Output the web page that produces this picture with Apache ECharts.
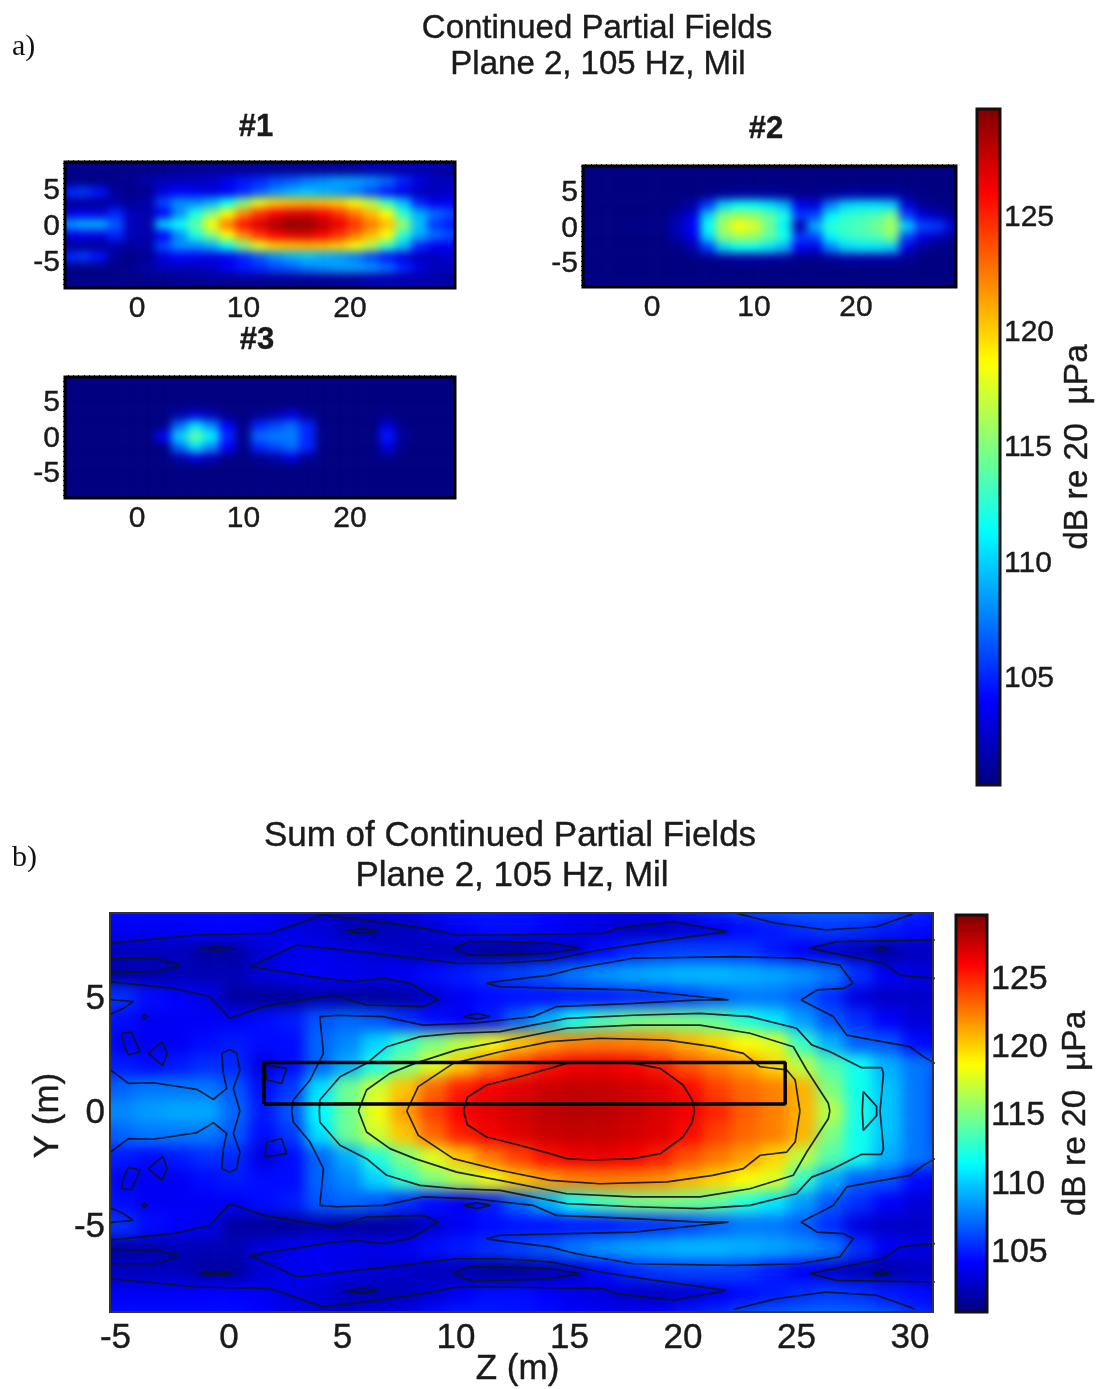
<!DOCTYPE html>
<html><head><meta charset="utf-8">
<style>html,body{margin:0;background:#fff}#c{width:1098px;height:1389px}</style>
<script src="https://cdn.jsdelivr.net/npm/echarts@6/dist/echarts.min.js"></script>
</head><body><div id="c"></div>
<script>
// ---------- tick labels / colour scale ----------
const JET = ['#000080','#0000ff','#0080ff','#00ffff','#80ff80','#ffff00','#ff8000','#ff0000','#800000'];
const partialRange = [100.27, 129.6];
const sumRange = [100.46, 129.54];
const colorTicks = [105,110,115,120,125];
const sumZTicks = [-5,0,5,10,15,20,25,30];
const sumYTicks = [-5,0,5];
const partialZTicks = [0,10,20];
const partialYTicks = [-5,0,5];

// ---------- sum field (upper half; the field is mirror-symmetric about Y=0) ----------
const sumZ = [-6,-4.75,-3.5,-2.25,-1,0.25,1.5,2.75,4,5.25,6.5,7.75,9,10.25,11.5,12.75,14,15.25,16.5,17.75,19,20.25,21.5,22.75,24,25.25,26.5,27.75,29,30.25,31.5];
const sumY = [0,1,2,3,4,5,6,7,8,9];
const sumY0 = [108,108,108.6,108.9,108.9,107,104.8,106.5,111.3,114.5,118.2,121.4,124.1,126,126.8,127.2,127.7,128,127.9,127.5,127,126.3,124.9,123.3,122.3,120.8,116.6,112,109.7,107.5,105.9];
const sumY1 = [105.9,107,107.5,107.5,107.5,106.5,104.4,105.7,110.5,114.5,117.3,120.3,123,125.1,126.1,126.8,127.4,127.6,127.5,127.2,126.8,125.7,124.1,123,122.3,120.8,115,111.8,109.7,107.5,105.9];
const sumY2 = [105.4,104.8,104.4,104.8,105.4,105.2,103.3,104.4,107,109.1,112.3,115,117.7,120.3,122.5,124.1,125.5,126.3,126.5,126.1,125.1,123.6,122.5,121.4,119.8,116.7,113.7,111.8,109.1,107.5,106.5];
const sumY3 = [105.4,103.8,103.8,103.8,104.4,104.8,104.4,104.4,107,108,110.2,112.9,115,116.6,118.2,120.3,121.4,122.3,122.5,122.3,121.9,120.8,119.8,118.7,117.7,112.9,109.1,106.8,106.5,104.4,103.8];
const sumY4 = [105.4,104.4,103.8,103.8,103.8,103.8,104.4,104.8,106.5,107,106.5,105.4,104.4,103.8,104.8,107,109.1,111.8,113.4,114.5,114.8,114.5,114,112.3,110.7,108.6,106.5,105.4,104,103,103];
const sumY5 = [105.9,105.4,104.4,104.1,103.5,101.5,101.2,101.2,101.8,101.5,101.3,101.5,102.8,103.8,104.4,104.6,104.6,104.8,104.8,105.2,105.4,106,106.8,107.5,107.5,106.8,105.4,103.2,102.5,102.5,103];
const sumY6 = [101.8,101.6,101.8,102,102,102,103.1,103.6,103.8,103.6,103.5,103.8,104.4,104.8,105.4,105.9,106.5,107.5,108.3,108.8,109.1,109.4,109.4,109.1,108.8,108.3,107.5,105.4,103.8,103.3,103.1];
const sumY7 = [102.5,102.2,102.2,102.2,101.5,101.5,102.8,103.6,103.6,103.3,102.9,102.5,102.2,102,101.2,101.2,102,102.8,104.4,105.2,105.7,105.9,105.9,105.7,104.8,103.8,102.8,102,101.5,102.2,102.4];
const sumY8 = [103.8,103.8,103.8,103.8,104.1,104.1,103.8,103.3,103,102,101.9,102.2,102.9,103.8,104.4,104.4,104.1,103.5,103.1,102.5,102.4,102.9,103.6,104.4,104.8,105.4,105.7,105.4,104.8,104.4,103.8];
const sumY9 = [104.4,104.4,104.4,104.4,104.4,104.4,104.1,103.3,102.8,102.8,103.3,103.5,104.4,104.8,104.8,104.6,104.4,104,103.8,103.8,104.1,104.8,105.4,106.3,106.7,107,107,107,106.5,105.4,104.8];
const sumRows = [sumY0,sumY1,sumY2,sumY3,sumY4,sumY5,sumY6,sumY7,sumY8,sumY9];

// ---------- partial fields (upper half) ----------
const partZ = [-8,-6.5,-5,-3.5,-2,-0.5,1,2.5,4,5.5,7,8.5,10,11.5,13,14.5,16,17.5,19,20.5,22,23.5,25,26.5,28,29.5,31];
const partY = [0,1.5,3,4.5,6,7.5,9,10.5];
const p1Y0  = [107,108,109,109,106.5,102,101.5,110,111.5,114,118.5,122.5,125.5,127,128.5,129.3,129,128,126.5,124.5,122.5,120.5,115.5,109.5,105.5,104.5,104];
const p1Y15 = [103,103,103.5,103,105,102,101.5,104,108,112,115,118.5,122,124.5,126,126.8,127,126,124.5,122.5,120.5,118.5,112.5,109,107,106,105];
const p1Y3  = [101,101,101,101,101.5,101,101.5,106,108,108,109,111.5,115,118,120,120.5,120.8,120.5,120,118.5,116.5,113,109.5,105,103.5,103.5,103];
const p1Y45 = [104,105,105.5,104.5,101,100.6,100.8,103,104,103.5,103,103.5,105,106.5,108,109,109.5,109,108.5,107.5,106,104.5,103,102,102,102.5,102.5];
const p1Y6  = [100.5,100.5,100.5,100.5,100.5,100.8,101.5,102,102,102,102.5,103.5,104.5,105,106,106.5,107.5,108,108.5,108.5,108,107,105,103,102,102,102];
const p1Y75 = [100.5,100.5,100.5,100.5,100.5,100.5,100.5,100.5,100.8,101,101,101,101,101,101,101,101,101,101,101,101.5,101.5,101.5,101.5,101.5,101,100.6];
const p1Y9  = [100.6,100.6,100.6,100.6,100.6,100.6,100.6,100.6,100.6,100.6,100.6,100.6,100.6,100.6,100.6,100.6,100.6,100.6,100.8,101,102,102,102,102,102,102,101];
const p1Y105= [100.6,100.6,100.6,100.6,100.6,100.6,100.6,100.6,100.6,100.6,100.6,100.6,100.6,100.6,100.6,100.6,100.6,100.6,100.8,101,102,102,102,102,102,102,101];
const p1Rows = [p1Y0,p1Y15,p1Y3,p1Y45,p1Y6,p1Y75,p1Y9,p1Y105];

const p2Y0  = [100.3,100.3,100.3,100.3,100.5,100.6,100.5,102,104,111.5,116,118.5,117.5,114.5,111,101.5,109,112.5,113,113.5,114.5,116,110,106,105.5,102.5,101];
const p2Y15 = [100.3,100.3,100.3,100.3,100.3,100.3,100.3,101.5,103,110,115,116,115.5,114,112,105.5,106,111,112.5,113,113.5,115,106,103,102,101,100.5];
const p2Y3  = [100.3,100.3,100.3,100.3,100.3,100.3,100.3,100.4,101.5,105.5,110,111.5,111.5,110.5,109,103.5,103,107.5,110,110.5,110.5,110,103,101,100.5,100.3,100.3];
const p2Y45 = [100.3,100.3,100.3,100.3,100.3,100.3,100.3,100.3,100.3,100.6,101,101.3,101.3,101.3,101,100.6,100.6,101,101.5,101.5,101.5,101.5,100.8,100.4,100.3,100.3,100.3];
const p2Y6  = [100.3,100.3,100.3,100.3,100.3,100.3,100.3,100.3,100.3,100.3,100.3,100.3,100.3,100.3,100.3,100.3,100.3,100.3,100.3,100.3,100.3,100.3,100.3,100.3,100.3,100.3,100.3];
const p2Rows = [p2Y0,p2Y15,p2Y3,p2Y45,p2Y6,p2Y6,p2Y6,p2Y6];

const p3Y0  = [100.3,100.3,100.3,100.3,100.3,100.3,100.3,104,110,114,111,105,100.5,107,107.5,107.5,105,100.5,100.3,100.3,100.3,104.5,101,100.3,100.3,100.3,100.3];
const p3Y15 = [100.3,100.3,100.3,100.3,100.3,100.3,100.3,100.5,107,110.5,108,104,100.5,105,106,107,105,100.5,100.3,100.3,100.3,103,100.6,100.3,100.3,100.3,100.3];
const p3Y3  = [100.3,100.3,100.3,100.3,100.3,100.3,100.3,100.3,101.5,103,102,100.5,100.3,100.8,101.5,103,101,100.3,100.3,100.3,100.3,100.6,100.3,100.3,100.3,100.3,100.3];
const p3Y45 = [100.3,100.3,100.3,100.3,100.3,100.3,100.3,100.3,100.3,100.3,100.3,100.3,100.3,100.3,100.3,100.3,100.3,100.3,100.3,100.3,100.3,100.3,100.3,100.3,100.3,100.3,100.3];
const p3Rows = [p3Y0,p3Y15,p3Y3,p3Y45,p3Y45,p3Y45,p3Y45,p3Y45];

// ---------- contour lines of the sum field, [Z, Y], upper half ----------
const contour125 = [[10.33,0],[10.5,0.6],[11.35,1.14],[12.8,1.5],[14.14,1.87],[14.88,2.09],[16,2.15],[17.8,2.09],[19,1.87],[20,1.14],[20.4,0.5],[20.5,0]];
const contour121 = [[7.83,0],[8.34,1.07],[9.88,2.09],[11.94,2.6],[14.14,3.04],[16.34,3.19],[19.3,3.11],[21.3,2.82],[22.66,2.53],[23.4,1.94],[24.57,1.8],[24.94,1.36],[25.15,0]];
const contour116 = [[5.7,0],[6.06,0.92],[7.09,1.65],[8.19,2.09],[10.03,2.68],[11.94,3.04],[14.88,3.63],[17.81,3.77],[20.75,3.77],[22.95,3.41],[24.86,2.82],[25.45,1.8],[26.4,0.34],[26.47,0]];
const contour112 = [[3.98,0],[4,0.48],[4.89,1.5],[6.06,2.09],[6.95,2.82],[8.41,3.26],[10.03,3.41],[11.94,3.48],[14.88,4.06],[17.81,4.2],[20.75,4.28],[22.95,4.14],[25,3.63],[25.67,2.9],[26.48,2.6],[27.87,1.9],[28.75,1.9],[28.83,1.65],[28.68,0]];
const contour112b = [[27.9,0],[27.94,0.85],[28.53,0.2],[28.53,0]];
const contour107 = [[2.76,0],[2.83,0.48],[3.57,1.36],[4.16,2.53],[4,4.14],[4.74,4.2],[6.8,4.14],[8.56,3.77],[10.76,3.85],[13.4,4.14],[14.43,4.58],[17.81,4.72],[20.75,4.87],[22,4.87],[20.75,5.01],[17.81,5.31],[14,5.4],[11.94,5.45],[11.35,5.6],[11.94,5.7],[14.14,5.96],[15.3,6.26],[17.8,6.7],[22.22,6.77],[25.16,6.7],[26.9,6.4],[27.5,5.6],[27.07,5.38],[25.9,5.31],[25.2,4.87],[26.62,4.14],[27.21,3.33],[28.39,3.11],[30,2.82],[30.6,2.38],[31.1,2.09]];
const contourLeft = [[-5.3,1.87],[-4.43,1.21],[-3.33,1.24],[-1.42,0.95],[-0.69,0.51],[-0.1,0.99],[-0.25,1.65],[-0.32,2.53],[0.04,2.7],[0.34,2.53],[0.48,1.8],[0.19,0.99],[0.48,0]];
const contourWave = [[-5.3,5.67],[-2.45,5.38],[-0.84,5.01],[0.04,4.06],[1.51,4.58],[4.6,5.09],[6.06,4.65],[8.56,4.58],[9.22,4.87],[7.97,5.6],[6.8,5.82],[5.48,5.67],[4.16,5.82],[0.93,6.33],[2.98,7.28],[5.04,7.06],[7.09,6.84],[10.03,6.48],[11.94,6.48],[14.14,6.62],[16.34,7.06],[18.25,7.35],[21.92,7.87],[19.6,8.3],[17.08,8.01],[16.49,7.79],[11.94,7.72],[10.03,7.72],[8.56,8.01],[7.09,8.23],[4.16,8.6],[1.81,7.79],[-1.42,7.72],[-5.3,7.35]];
const contourLeftOval = [[-5.3,6.7],[-3.19,6.7],[-2.16,6.37],[-3.19,6.11],[-5.3,6.07]];
const contourLeftWedge = [[-5.3,4.9],[-4.21,4.8],[-4.65,4.5],[-5.3,4.21]];
const contourTopRight = [[22.22,8.7],[24.13,8.23],[26.33,7.94],[28.53,8.08],[30,8.6],[30.2,8.7]];
const contourRight = [[31.1,7.5],[26.76,7.43],[25.59,7.13],[27.06,6.84],[28.82,6.48],[29.56,5.96],[31.1,5.82]];
const loopA = [[-1.28,7.13],[-0.54,7.2],[0.19,7.13],[-0.54,7.03]];
const loopB = [[5.18,7.89],[5.84,8],[6.58,7.89],[5.84,7.79]];
const loopC = [[9.88,7.13],[10.62,7.43],[11.94,7.43],[14.14,7.35],[15.46,7.13],[14.14,6.92],[11.94,6.84],[10.62,6.84]];
const loopD = [[10.32,4.14],[10.91,4.28],[11.5,4.14],[10.91,4.03]];
const loopE = [[28.39,7.13],[28.73,7.2],[29.09,7.13],[28.73,7.03]];
const loopF = [[-4.73,3.41],[-4.29,3.45],[-3.92,2.6],[-4.43,2.46],[-4.65,2.97]];
const loopG = [[-3.55,2.53],[-2.95,3.04],[-2.72,2.53],[-2.92,1.99]];
const loopH = [[1.59,2.02],[2.54,1.87],[2.32,1.21],[1.66,1.36]];
const loopI = [[-3.85,4.14],[-3.73,4.24],[-3.61,4.14],[-3.73,4.04]];
const openContours = [contour125,contour121,contour116,contour112,contour112b,contour107,contourLeft,contourWave,contourLeftOval,contourLeftWedge,contourTopRight,contourRight];
const closedContours = [loopA,loopB,loopC,loopD,loopE,loopF,loopG,loopH,loopI];
const rectZ = [1.54,24.5];
const rectY = [0.31,2.13];

// ---------- layout ----------
const FONT = '"Liberation Sans", Arial, sans-serif';
const INK = '#1a1a1a';
const panelMain = {l:110,t:913,r:933,b:1312,x0:229,sx:22.7,y0:1111,sy:22.8};
const panel1 = {l:65,t:162,r:455,b:288,x0:137,sx:10.65,y0:224,sy:7.2};
const panel2 = {l:583,t:166,r:956,b:287,x0:652,sx:10.2,y0:226,sy:7.1};
const panel3 = {l:65,t:377,r:455,b:498,x0:137,sx:10.65,y0:436,sy:7.1};
const barA = {l:977,t:109,r:1000,b:785};
const barB = {l:956,t:915,r:987,b:1312};

const grids=[],xAxes=[],yAxes=[],series=[];
const FULL = 1098, TALL = 1389;
const heavy = {fontFamily:FONT,color:INK,textBorderColor:INK,textBorderWidth:0.4};
// vertical tick labels sit about 2 px below the tick in the reference
const loweredLabel=(fs,m,vals)=>({customValues:vals,margin:m,formatter:'{a|{value}}',
  rich:{a:Object.assign({fontSize:fs,padding:[5,0,0,0]},heavy)}});
function mirrorAxis(v){return v.slice().reverse().map(a=>-a).concat(v.slice(1));}
function heatmap(p,zs,ys,rows,lvl){
  const dz=zs[1]-zs[0], dy=ys[1]-ys[0];
  const g=grids.length;
  const left=p.x0+p.sx*(zs[0]-dz/2), right=p.x0+p.sx*(zs[zs.length-1]+dz/2);
  const yTop=ys[ys.length-1]+dy/2;
  grids.push({left:left,width:right-left,top:p.y0-p.sy*yTop,height:2*p.sy*yTop,show:false,zlevel:lvl,outerBoundsMode:'none'});
  const yAll=mirrorAxis(ys);
  xAxes.push({type:'category',gridIndex:g,data:zs.map(String),show:false});
  yAxes.push({type:'category',gridIndex:g,data:yAll.map(String),show:false});
  const data=[];
  yAll.forEach((yv,j)=>{const row=rows[Math.abs(j-(ys.length-1))];
    row.forEach((v,i)=>data.push([i,j,v]));});
  series.push({type:'heatmap',xAxisIndex:xAxes.length-1,yAxisIndex:yAxes.length-1,data:data,zlevel:lvl,silent:true,progressive:0,animation:false});
}
function axes(p,opts){
  const g=grids.length;
  grids.push({left:p.l,top:p.t,width:p.r-p.l,height:p.b-p.t,show:true,backgroundColor:'transparent',
    borderColor:opts.border,borderWidth:opts.bw,zlevel:2,z:5,outerBoundsMode:'none'});
  const zmin=(p.l-p.x0)/p.sx, zmax=(p.r-p.x0)/p.sx, ymax=(p.y0-p.t)/p.sy, ymin=(p.y0-p.b)/p.sy;
  const lab=(size,m)=>Object.assign({fontSize:size,margin:m},heavy);
  xAxes.push({type:'value',gridIndex:g,min:zmin,max:zmax,position:'bottom',splitLine:{show:false},axisLine:{show:false,onZero:false},
    axisTick:{show:false},axisLabel:Object.assign(lab(opts.fs,opts.mx),{customValues:opts.zt,showMinLabel:true,showMaxLabel:true}),
    name:opts.xname||'',nameLocation:'middle',nameGap:opts.xgap||0,nameMoveOverlap:false,nameTextStyle:Object.assign({fontSize:35,padding:[0,8,0,0]},heavy),zlevel:2});
  const dense=[];
  if(opts.dense){for(let v=Math.ceil(ymin/0.7)*0.7;v<=ymax;v+=0.7)dense.push(v);}
  yAxes.push({type:'value',gridIndex:g,min:ymin,max:ymax,position:'left',splitLine:{show:false},axisLine:{show:false,onZero:false},
    axisTick:opts.dense?{show:true,length:2,customValues:dense,lineStyle:{color:'#222'}}:{show:false},
    axisLabel:loweredLabel(opts.fs,opts.my,opts.yt),
    name:opts.yname||'',nameLocation:'middle',nameGap:opts.ygap||0,nameMoveOverlap:false,nameTextStyle:Object.assign({fontSize:35,padding:[0,6,0,0]},heavy),zlevel:2});
  const idx=xAxes.length-1;
  if(opts.dense){
    const top=[];for(let v=Math.ceil(zmin/0.5)*0.5;v<=zmax;v+=0.5)top.push(v);
    xAxes.push({type:'value',gridIndex:g,min:zmin,max:zmax,position:'top',splitLine:{show:false},axisLine:{show:false,onZero:false},
      axisLabel:{show:false},axisTick:{show:true,length:2,customValues:top,lineStyle:{color:'#222'}},zlevel:2});
  }
  return idx;
}
function colorBarAxis(b,range,fs,gap,name){
  const g=grids.length;
  grids.push({left:b.l,top:b.t,width:b.r-b.l,height:b.b-b.t,show:true,backgroundColor:'transparent',borderColor:'#111',borderWidth:3,zlevel:2,z:5,outerBoundsMode:'none'});
  xAxes.push({type:'value',gridIndex:g,min:0,max:1,show:false});
  yAxes.push({type:'value',gridIndex:g,min:range[0],max:range[1],position:'right',splitLine:{show:false},axisLine:{show:false,onZero:false},
    axisTick:{show:true,inside:true,length:5,customValues:colorTicks,lineStyle:{color:'#111',width:2}},
    axisLabel:loweredLabel(fs,4,colorTicks),
    name:name,nameLocation:'middle',nameGap:gap,nameRotate:90,nameMoveOverlap:false,nameTextStyle:Object.assign({fontSize:33.5},heavy),zlevel:2});
  yAxes.push({type:'value',gridIndex:g,min:range[0],max:range[1],position:'left',splitLine:{show:false},axisLine:{show:false,onZero:false},
    axisLabel:{show:false},axisTick:{show:true,inside:true,length:5,customValues:colorTicks,lineStyle:{color:'#111',width:2}},zlevel:2});
}

// heatmaps: series 0 = sum, 1..3 = partial
heatmap(panelMain,sumZ,sumY,sumRows,0);
heatmap(panel1,partZ,partY,p1Rows,1);
heatmap(panel2,partZ,partY,p2Rows,1);
heatmap(panel3,partZ,partY,p3Rows,1);

// axes
const mainAx=axes(panelMain,{border:'#333',bw:2,fs:35,mx:9,my:5,zt:sumZTicks,yt:sumYTicks,xname:'Z (m)',xgap:40,yname:'Y (m)',ygap:44});
const yMainAx=yAxes.length-1;
const smallOpts={border:'#000',bw:3,fs:30,mx:6,my:5,zt:partialZTicks,yt:partialYTicks,dense:true};
axes(panel1,smallOpts); axes(panel2,smallOpts); axes(panel3,smallOpts);
colorBarAxis(barA,partialRange,30,61,'dB re 20  µPa');
colorBarAxis(barB,sumRange,34,72,'dB re 20  µPa');

// contours
function line(pts,w,col){
  series.push({type:'line',xAxisIndex:mainAx,yAxisIndex:yMainAx,data:pts,symbol:'none',silent:true,animation:false,clip:true,zlevel:2,z:3,
    lineStyle:{color:col,width:w}});
}
const mirror=p=>p.map(a=>[a[0],-a[1]]);
const CL='rgba(10,20,30,0.9)';
openContours.forEach(p=>{line(p,1.7,CL);line(mirror(p),1.7,CL);});
closedContours.forEach(p=>{const c=p.concat([p[0]]);line(c,1.7,CL);line(mirror(c),1.7,CL);});
line([[rectZ[0],rectY[0]],[rectZ[1],rectY[0]],[rectZ[1],rectY[1]],[rectZ[0],rectY[1]],[rectZ[0],rectY[0]]],3.5,'#000');

const ttl=(text,x,top,size,weight)=>({text:text,left:x,top:top,padding:0,textAlign:'center',zlevel:2,
  textStyle:Object.assign({fontSize:size,fontWeight:weight||'normal'},heavy)});
const serif=(text,x,top)=>({text:text,left:x,top:top,padding:0,zlevel:2,textStyle:{fontFamily:'"Liberation Serif",serif',fontSize:30,fontWeight:'normal',color:'#111'}});

const chart=echarts.init(document.getElementById('c'),null,{renderer:'canvas',width:FULL,height:TALL});
chart.setOption({
  animation:false,backgroundColor:'transparent',
  title:[
    ttl('Continued Partial Fields',597,12,33),
    ttl('Plane 2, 105 Hz, Mil',598,48,33),
    ttl('#1',256,112,31,'bold'),ttl('#2',766,114,31,'bold'),ttl('#3',257,325,31,'bold'),
    ttl('Sum of Continued Partial Fields',510,819,35),
    ttl('Plane 2, 105 Hz, Mil',512,859,35),
    serif('a)',12,32),serif('b)',12,843)
  ],
  visualMap:[
    {type:'continuous',min:sumRange[0],max:sumRange[1],seriesIndex:[0],inRange:{color:JET},calculable:false,realtime:false,hoverLink:false,
     left:barB.l,top:barB.t,itemWidth:barB.r-barB.l,itemHeight:barB.b-barB.t,padding:0,text:null,showLabel:false,zlevel:2,z:1},
    {type:'continuous',min:partialRange[0],max:partialRange[1],seriesIndex:[1,2,3],inRange:{color:JET},calculable:false,realtime:false,hoverLink:false,
     left:barA.l,top:barA.t,itemWidth:barA.r-barA.l,itemHeight:barA.b-barA.t,padding:0,text:null,showLabel:false,zlevel:2,z:1}
  ],
  grid:grids,xAxis:xAxes,yAxis:yAxes,series:series
});

// soften each heat layer (the reference uses interpolated shading) and clip it to its frame
const rectPath=p=>`M${p.l} ${p.t}H${p.r}V${p.b}H${p.l}Z`;
const canv=document.querySelectorAll('#c canvas');
if(canv.length>=3){
  canv[0].style.filter='blur(7px)';
  canv[0].style.clipPath=`path('${rectPath(panelMain)}')`;
  canv[1].style.filter='blur(4.5px)';
  canv[1].style.clipPath=`path('${rectPath(panel1)} ${rectPath(panel2)} ${rectPath(panel3)}')`;
  canv[2].style.filter='blur(0.5px)';
}
</script></body></html>
